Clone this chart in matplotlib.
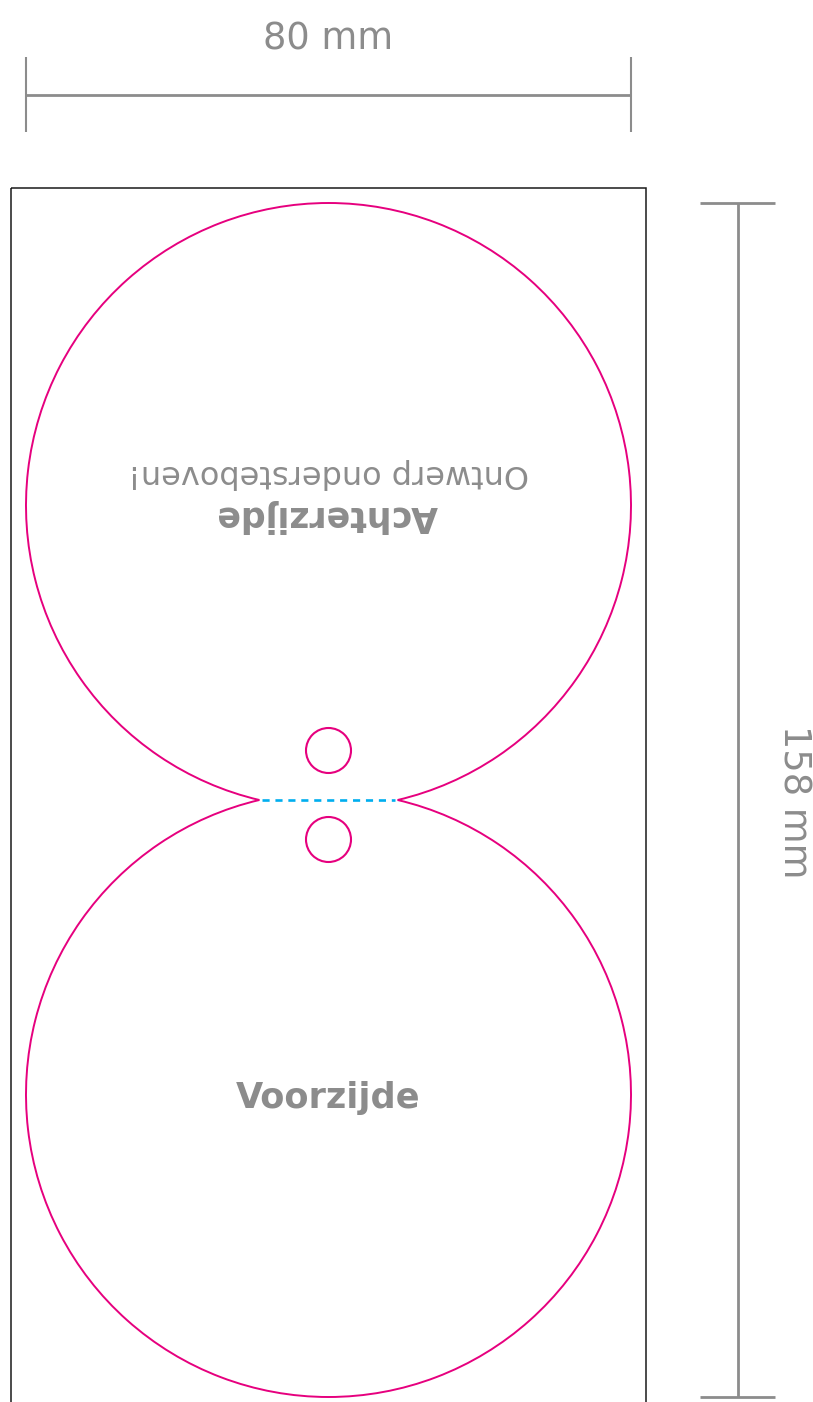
import numpy as np
import matplotlib
matplotlib.use("Agg")
import matplotlib.pyplot as plt
from matplotlib.patches import Arc, Circle, Rectangle

# ---- data ----
width_label = "80 mm"
height_label = "158 mm"
front_label = "Voorzijde"
back_label = "Achterzijde"
back_note = "Ontwerp ondersteboven!"

# geometry (pixels of the 813x1402 canvas)
W, H = 813, 1402
GRAY = "#8c8c8c"
MAGENTA = "#e6007e"
CYAN = "#00aeef"

disc_cx = 328.5
disc_r = 302.5
upper_cy = 505.5
lower_cy = 1094.5
hole_r = 22.5
hole_cy = [750.5, 839.5]

fig = plt.figure(figsize=(W / 100, H / 100), dpi=100)
ax = fig.add_axes([0, 0, 1, 1])
ax.set_xlim(0, W)
ax.set_ylim(H, 0)
ax.axis("off")

# top dimension
ax.plot([26, 631], [95, 95], color=GRAY, lw=2.0, solid_capstyle="butt")
for x in (26, 631):
    ax.plot([x, x], [57, 132], color=GRAY, lw=1.5, solid_capstyle="butt")
ax.text(328, 39, width_label, ha="center", va="center", fontsize=26.5,
        color=GRAY, family="DejaVu Sans")

# right dimension
ax.plot([738, 738], [203, 1397], color=GRAY, lw=2.0, solid_capstyle="butt")
for y in (203, 1397):
    ax.plot([700, 775], [y, y], color=GRAY, lw=2.0, solid_capstyle="butt")
ax.text(794, 802, height_label, ha="center", va="center", fontsize=26.5,
        color=GRAY, rotation=-90, rotation_mode="anchor", family="DejaVu Sans")

# sheet outline
ax.add_patch(Rectangle((11, 188), 635, 1240, fill=False, ec="#1a1a1a", lw=1.1))

# discs (arcs excluding the overlap)
half = (lower_cy - upper_cy) / 2
dx = np.sqrt(disc_r ** 2 - half ** 2)
ang = np.degrees(np.arctan2(half, dx))
ax.add_patch(Arc((disc_cx, upper_cy), 2 * disc_r, 2 * disc_r,
                 theta1=180 - ang, theta2=ang, color=MAGENTA, lw=1.4))
ax.add_patch(Arc((disc_cx, lower_cy), 2 * disc_r, 2 * disc_r,
                 theta1=360 - ang, theta2=180 + ang, color=MAGENTA, lw=1.4))

# fold line
fold_y = (upper_cy + lower_cy) / 2
ax.plot([disc_cx - dx + 3, disc_cx + dx - 3], [fold_y, fold_y], color=CYAN, lw=1.9,
        dashes=[2.7, 2.2])

# holes
for cy in hole_cy:
    ax.add_patch(Circle((disc_cx, cy), hole_r, fill=False, ec=MAGENTA, lw=1.5))

# labels
ax.text(328.5, 1098, front_label, ha="center", va="center", fontsize=25.3,
        weight="bold", color=GRAY, family="DejaVu Sans")
ax.text(327, 516, back_label, ha="center", va="center", fontsize=25.0,
        weight="bold", color=GRAY, rotation=180, rotation_mode="anchor",
        family="DejaVu Sans")
ax.text(328.5, 474, back_note, ha="center", va="center", fontsize=23.0,
        color=GRAY, rotation=180, rotation_mode="anchor", family="DejaVu Sans")

fig.savefig("out.png", dpi=100)
